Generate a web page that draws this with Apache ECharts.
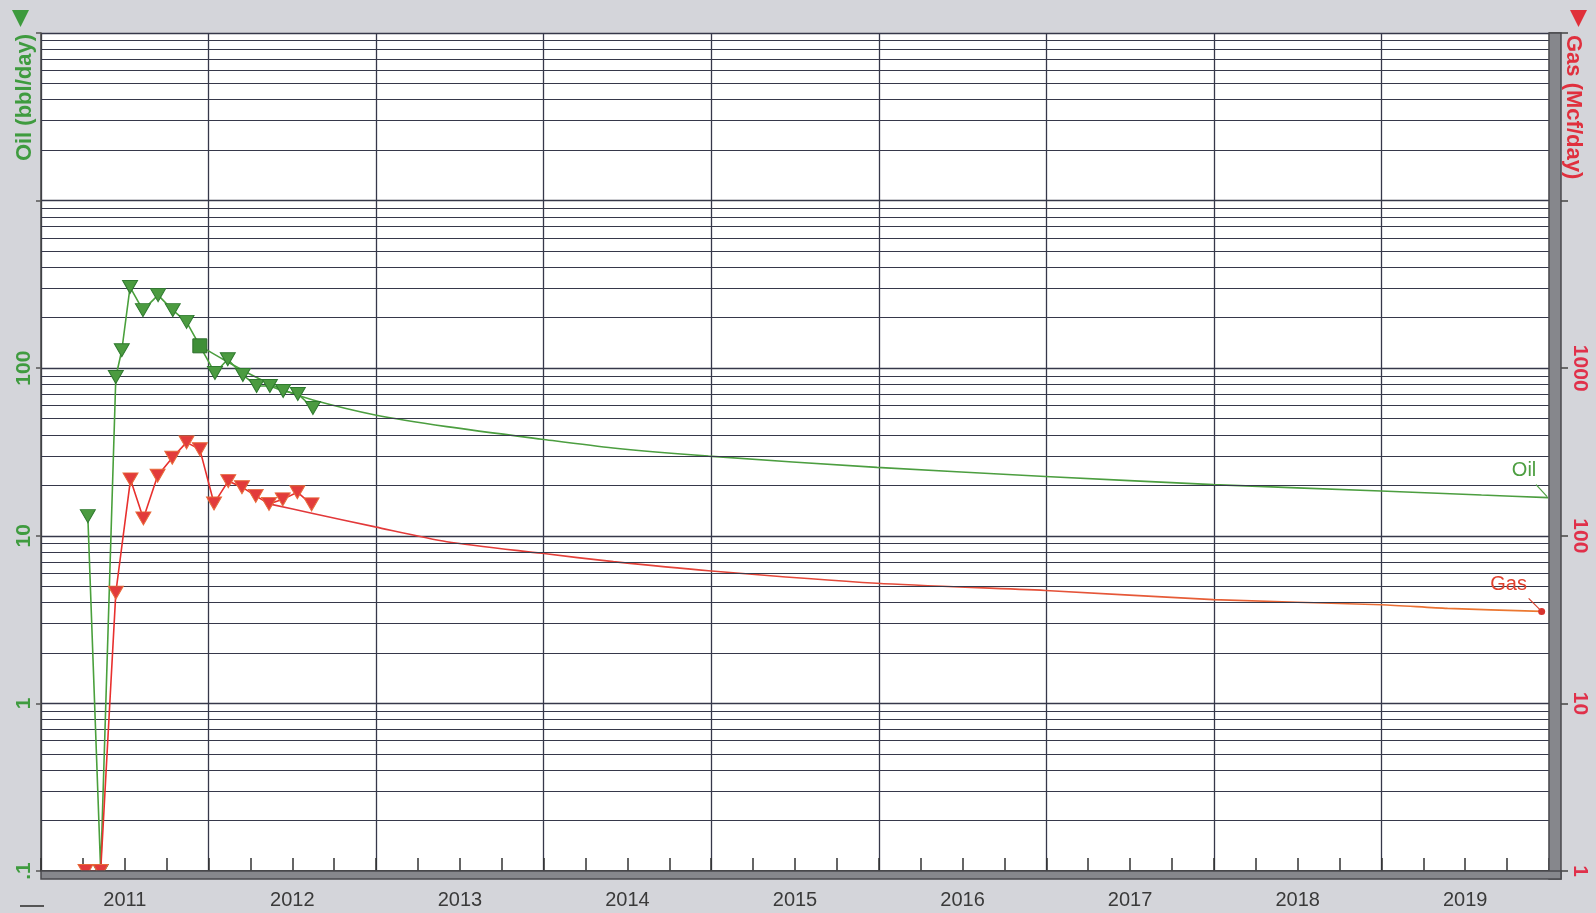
<!DOCTYPE html>
<html>
<head>
<meta charset="utf-8">
<script src="https://cdn.jsdelivr.net/npm/echarts@6/dist/echarts.min.js"></script>
<style>
html,body{margin:0;padding:0;background:#d4d5da;}
#c{width:1596px;height:913px;}
</style>
</head>
<body>
<div id="c"></div>
<script>
// ---------------- data ----------------
const yearLabels = ['2011','2012','2013','2014','2015','2016','2017','2018','2019'];
const oilAxisLabels = {'-1':'.1','0':'1','1':'10','2':'100'};
const gasAxisLabels = {'0':'1','1':'10','2':'100','3':'1000'};
const gridMultipliers = [2,3,4,5,6,7,8,9];
const gridDecadesOil = [-1,0,1,2,3];

const oilDates = ['2011-04-13','2011-05-11','2011-06-13','2011-06-26','2011-07-14','2011-08-11','2011-09-13','2011-10-15','2011-11-14','2011-12-13','2012-01-15','2012-02-12','2012-03-16','2012-04-15','2012-05-14','2012-06-12','2012-07-14','2012-08-16'];
const oilRates = [13.1, 0.1, 88.6, 128, 305, 222, 273, 222, 189, 136, 93.6, 113, 91.1, 78.3, 78.3, 73.1, 70.2, 57.9];
const oilSquareIndex = 9;

const gasDates = ['2011-04-08','2011-05-11','2011-06-13','2011-07-15','2011-08-12','2011-09-12','2011-10-14','2011-11-14','2011-12-13','2012-01-13','2012-02-13','2012-03-14','2012-04-13','2012-05-12','2012-06-11','2012-07-13','2012-08-13'];
const gasRates = [1, 1, 45.8, 217, 127, 228, 292, 361, 328, 156, 212, 195, 173, 155, 165, 182, 154];

const oilForecastDates = ['2011-12-13','2012-02-12','2012-04-13','2012-06-13','2012-08-16','2012-12-30','2013-06-04','2013-12-28','2014-06-01','2014-12-26','2015-12-28','2016-12-30','2017-12-31','2018-12-31','2019-08-07','2019-12-30'];
const oilForecastRates = [136, 109, 88.6, 74.1, 64.6, 52.6, 44.8, 37.7, 33.4, 29.9, 25.6, 22.6, 20.2, 18.5, 17.5, 16.9];

const gasForecastDates = ['2012-05-12','2012-08-16','2012-12-30','2013-06-04','2013-12-28','2014-06-02','2014-12-26','2015-12-28','2016-12-30','2017-12-31','2019-01-01','2019-05-25','2019-12-16'];
const gasForecastRates = [155, 136, 113, 92.2, 78.6, 70.1, 61.9, 52.1, 47.2, 41.6, 38.8, 36.9, 35.4];

// ---------------- helpers ----------------
const FONT = '"Liberation Sans", Arial, sans-serif';
const GREEN = '#3f9b3f';
const GRIDC = '#36384a';

function toYear(d) {
  const t = Date.parse(d + 'T00:00:00Z');
  const y = new Date(t).getUTCFullYear();
  const s = Date.UTC(y, 0, 1), e = Date.UTC(y + 1, 0, 1);
  return y + (t - s) / (e - s);
}
const pairs = (ds, vs) => ds.map((d, i) => [toYear(d), vs[i]]);

const minorGrid = [];
gridDecadesOil.forEach(e => gridMultipliers.forEach(m => minorGrid.push({ yAxis: m * Math.pow(10, e) })));

const oilData = pairs(oilDates, oilRates).map((p, i) => i === oilSquareIndex
  ? { value: p, symbol: 'rect', symbolRotate: 0, symbolSize: [14, 14], itemStyle: { color: '#3f8f38', borderColor: '#2c6e2a' } }
  : p);
const gasData = pairs(gasDates, gasRates);
const oilFc = pairs(oilForecastDates, oilForecastRates);
const gasFc = pairs(gasForecastDates, gasForecastRates);

const chart = echarts.init(document.getElementById('c'), null, { renderer: 'canvas' });

const baseGraphic = [
  { type: 'polygon', shape: { points: [[12, 10], [29, 10], [20.5, 27]] }, style: { fill: '#3d9a3d' } },
  { type: 'polygon', shape: { points: [[1570, 10], [1587, 10], [1578.5, 27]] }, style: { fill: '#e0303a' } },
  { type: 'text', x: 25, y: 34, rotation: Math.PI / 2,
    style: { text: 'Oil (bbl/day)', fill: GREEN, font: 'bold 22px "Liberation Sans", Arial, sans-serif', textAlign: 'right', textVerticalAlign: 'middle' } },
  { type: 'text', x: 1573, y: 35, rotation: -Math.PI / 2,
    style: { text: 'Gas (Mcf/day)', fill: '#e0303e', font: 'bold 22px "Liberation Sans", Arial, sans-serif', textAlign: 'left', textVerticalAlign: 'middle' } },
  { type: 'rect', z: 50, shape: { x: 1549, y: 33, width: 12, height: 846 }, style: { fill: '#86878c', stroke: '#4a4a4e', lineWidth: 1.5 } },
  { type: 'rect', z: 50, shape: { x: 41, y: 871, width: 1520, height: 8 }, style: { fill: '#86878c', stroke: '#4a4a4e', lineWidth: 1.5 } },
  { type: 'line', shape: { x1: 20, y1: 906, x2: 44, y2: 906 }, style: { stroke: '#555', lineWidth: 2 } }
];

const option = {
  animation: false,
  backgroundColor: '#d4d5da',
  textStyle: { fontFamily: FONT },
  grid: { left: 41, right: 47, top: 33, bottom: 42, show: true, backgroundColor: '#ffffff', borderWidth: 0 },
  xAxis: [
    {
      type: 'value', min: 2011, max: 2020, interval: 1,
      axisLine: { show: true, lineStyle: { color: '#444', width: 2 } },
      axisTick: { show: true, inside: true, length: 13, lineStyle: { color: '#333', width: 1.5 } },
      minorTick: { show: true, splitNumber: 4, length: 13, lineStyle: { color: '#333', width: 1.5 } },
      minorSplitLine: { show: false },
      axisLabel: { show: false },
      splitLine: { show: true, lineStyle: { color: GRIDC, width: 1.3 } }
    },
    {
      type: 'value', min: 2011, max: 2020, interval: 0.5, position: 'bottom',
      axisLine: { show: false }, axisTick: { show: false }, splitLine: { show: false },
      axisLabel: {
        color: '#3a3a3a', fontSize: 20, fontFamily: FONT, margin: 19,
        formatter: v => (Math.abs((v % 1) - 0.5) < 1e-6) ? (yearLabels[Math.floor(v) - 2011] || '') : ''
      }
    }
  ],
  yAxis: [
    {
      type: 'log', logBase: 10, min: 0.1, max: 10000, position: 'left',
      axisLine: { show: true, lineStyle: { color: '#444', width: 1.5 } },
      axisTick: { show: true, length: 5, lineStyle: { color: '#555', width: 1.5 } },
      splitLine: { show: true, lineStyle: { color: GRIDC, width: 1.3 } },
      axisLabel: {
        rotate: 90, margin: 6, color: GREEN, fontWeight: 'bold', fontSize: 21, fontFamily: FONT,
        formatter: v => { const n = Math.round(Math.log10(v)); return oilAxisLabels[n] !== undefined ? oilAxisLabels[n] : ''; }
      }
    },
    {
      type: 'log', logBase: 10, min: 1, max: 100000, position: 'right',
      axisLine: { show: false },
      axisTick: { show: true, length: 19, lineStyle: { color: '#444', width: 1.5 } },
      splitLine: { show: false },
      axisLabel: {
        rotate: -90, margin: 20, color: '#e0304a', fontWeight: 'bold', fontSize: 21, fontFamily: FONT,
        formatter: v => { const n = Math.round(Math.log10(v)); return gasAxisLabels[n] !== undefined ? gasAxisLabels[n] : ''; }
      }
    }
  ],
  series: [
    {
      type: 'line', name: 'grid', data: [], silent: true, z: 1,
      markLine: {
        silent: true, animation: false, symbol: ['none', 'none'], label: { show: false },
        lineStyle: { color: GRIDC, width: 1.2, type: 'solid' },
        emphasis: { disabled: true },
        data: minorGrid
      }
    },
    {
      type: 'line', name: 'Oil forecast', data: oilFc, symbol: 'none', showSymbol: false, z: 3,
      smooth: 0.25,
      lineStyle: { color: '#4c9e40', width: 1.6 }
    },
    {
      type: 'line', name: 'Gas forecast', yAxisIndex: 1, data: gasFc, symbol: 'none', showSymbol: false, z: 3,
      smooth: 0.25,
      lineStyle: {
        width: 1.6,
        color: { type: 'linear', x: 0, y: 0, x2: 1, y2: 0, colorStops: [
          { offset: 0, color: '#e2363a' }, { offset: 0.6, color: '#e4503a' }, { offset: 1, color: '#ec7a30' }] }
      },
      markPoint: {
        symbol: 'circle', symbolSize: 7, itemStyle: { color: '#d8342e' }, label: { show: false },
        data: [{ coord: gasFc[gasFc.length - 1] }]
      }
    },
    {
      type: 'line', name: 'Oil', data: oilData, z: 5,
      symbol: 'triangle', symbolRotate: 180, symbolSize: [15, 13],
      lineStyle: { color: '#4aa03c', width: 1.6 },
      itemStyle: { color: '#4b9b40', borderColor: '#2f7a2f', borderWidth: 1 }
    },
    {
      type: 'line', name: 'Gas', yAxisIndex: 1, data: gasData, z: 6,
      symbol: 'triangle', symbolRotate: 180, symbolSize: [15, 13],
      lineStyle: { color: '#e8302e', width: 1.6 },
      itemStyle: { color: '#e23b3b', borderColor: '#e86a3a', borderWidth: 1 }
    }
  ],
  graphic: baseGraphic
};

chart.setOption(option);

// annotations placed relative to the forecast end points
const oilEnd = chart.convertToPixel({ seriesIndex: 1 }, oilFc[oilFc.length - 1]);
const gasEnd = chart.convertToPixel({ seriesIndex: 2 }, gasFc[gasFc.length - 1]);
const ann = [
  { type: 'text', x: oilEnd[0] - 24, y: oilEnd[1] - 27, z: 60,
    style: { text: 'Oil', fill: '#4c9e40', font: '20px "Liberation Sans", Arial, sans-serif', textAlign: 'center', textVerticalAlign: 'middle' } },
  { type: 'line', z: 60, shape: { x1: oilEnd[0] - 12, y1: oilEnd[1] - 13, x2: oilEnd[0] - 1, y2: oilEnd[1] - 1 },
    style: { stroke: '#4c9e40', lineWidth: 1.2 } },
  { type: 'text', x: gasEnd[0] - 33, y: gasEnd[1] - 27, z: 60,
    style: { text: 'Gas', fill: '#e0402e', font: '20px "Liberation Sans", Arial, sans-serif', textAlign: 'center', textVerticalAlign: 'middle' } },
  { type: 'line', z: 60, shape: { x1: gasEnd[0] - 13, y1: gasEnd[1] - 13, x2: gasEnd[0] - 1, y2: gasEnd[1] - 1 },
    style: { stroke: '#d8402e', lineWidth: 1.2 } }
];
chart.setOption({ graphic: baseGraphic.concat(ann) });
</script>
</body>
</html>
